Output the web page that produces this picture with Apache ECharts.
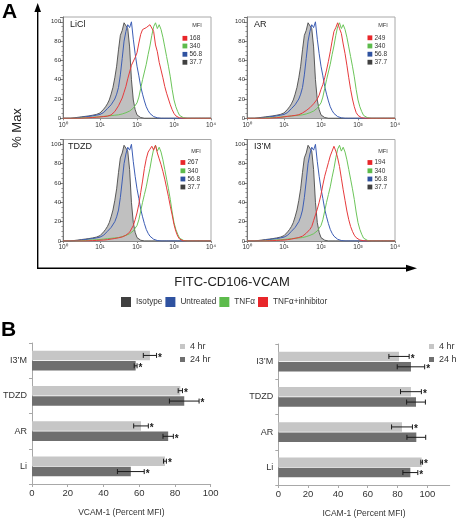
<!DOCTYPE html>
<html><head><meta charset="utf-8">
<script src="https://cdn.jsdelivr.net/npm/echarts@6/dist/echarts.min.js"></script>
<style>html,body{margin:0;padding:0;background:#fff}#c{width:456px;height:522px}</style>
</head><body><div id="c"></div>
<script>
// ---------- Panel A data (flow cytometry histograms, % of max vs log10 intensity) ----------
const logBins = [
0,0.05,0.1,0.15,0.2,0.25,0.3,0.35,0.4,0.45,
0.5,0.55,0.6,0.65,0.7,0.75,0.8,0.85,0.9,0.95,
1,1.05,1.1,1.15,1.2,1.25,1.3,1.35,1.4,1.45,
1.5,1.55,1.6,1.65,1.7,1.75,1.8,1.85,1.9,1.95,
2,2.05,2.1,2.15,2.2,2.25,2.3,2.35,2.4,2.45,
2.5,2.55,2.6,2.65,2.7,2.75,2.8,2.85,2.9,2.95,
3,3.05,3.1,3.15,3.2,3.25,3.3,3.35,3.4,3.45,
3.5,3.55,3.6,3.65,3.7,3.75,3.8,3.85,3.9,3.95,
4];
const xTickLabels = ['10\u2070','10\u00b9','10\u00b2','10\u00b3','10\u2074'];
const isotype = [
0,0,0,0,0,0.3,0.5,0.8,1,1.2,
1.5,1.8,2,2.2,2.5,3,3.2,3.5,4,4.5,
5.5,7.5,9.5,12,15,19,25,32,42,54,
71,86,91,99,97,93,74,40,19,9,
3.5,1.5,0.8,0.3,0,0,0,0,0,0,
0,0,0,0,0,0,0,0,0,0,
0,0,0,0,0,0,0,0,0,0,
0,0,0,0,0,0,0,0,0,0,
0];
const untreated = [
0,0,0,0,0,0,0,0.3,0.5,0.8,
1,1.2,1.5,1.8,2,2.2,2.5,3,3.2,3.5,
4,5,6,8,10,12,14,16,20,25,
32,45,62,80,90,97,94,100,82,67,
54,44,33,25,18,12,8,5,3,1.8,
1,0.5,0.3,0,0,0,0,0,0,0,
0,0,0,0,0,0,0,0,0,0,
0,0,0,0,0,0,0,0,0,0,
0];
const tnfa = [
0,0,0,0,0,0,0,0,0,0.2,
0.3,0.4,0.5,0.6,0.8,1,1,1.2,1.3,1.5,
1.6,1.8,2,2.2,2.4,2.6,2.8,3,3.2,3.4,
3.6,4,4.5,5,5.8,6.5,7.5,9,10.5,12,
16,22,31,40,48,56,66,75,86,95,
99,93,97,92,84,74,64,54,43,30,
19,12,7,3,1.5,0.7,0.3,0,0,0,
0,0,0,0,0,0,0,0,0,0,
0];
const inhibLiCl = [
0,0,0,0,0,0,0,0,0,0,
0,0.2,0.3,0.4,0.5,0.6,0.8,1,1.1,1.2,
1.4,1.6,1.8,2,2.2,2.6,3.5,5,7,9,
13,17,21,27,33,41,48,55,57,63,
68,78,87,92,93,94,96,97,99,90,
76,69,58,50,42,33,26,20,14,9,
5,2.5,1,0.4,0,0,0,0,0,0,
0,0,0,0,0,0,0,0,0,0,
0];
const inhibAR = [
0,0,0,0,0,0,0,0,0,0,
0,0,0,0.2,0.3,0.5,0.6,0.8,1,1.2,
1.5,1.8,2,2.2,2.5,2.8,3,3.3,3.7,4.5,
5.5,6.5,8,9.5,11,13,15,17,20,24,
30,35,42,50,59,69,80,90,94,99,
93,88,77,67,55,42,30,20,12,6,
3,1.2,0.5,0,0,0,0,0,0,0,
0,0,0,0,0,0,0,0,0,0,
0];
const inhibTDZD = [
0,0,0,0,0,0,0,0,0,0,
0,0,0,0,0.2,0.3,0.4,0.5,0.6,0.7,
0.8,0.9,1,1.2,1.4,1.7,2,2.3,2.6,3,
3.3,3.7,4.2,5,6,7.5,9,11,16,22,
29,38,50,62,75,85,92,95,98,94,
99,91,85,79,72,64,55,46,36,27,
17,10,5,2,0.8,0.3,0,0,0,0,
0,0,0,0,0,0,0,0,0,0,
0];
const inhibI3M = [
0,0,0,0,0,0,0,0,0,0,
0,0,0.2,0.3,0.4,0.5,0.6,0.7,0.8,0.9,
1,1.2,1.4,1.7,2,2.4,2.8,3.2,3.6,4,
5,6.5,8,10,12,15,21,27,33,40,
48,58,67,74,81,88,93,98,93,86,
77,65,53,42,31,22,15,10,6,3.5,
2,1,0.6,0.3,0,0,0,0,0,0,
0,0,0,0,0,0,0,0,0,0,
0];
const panelNames = ['LiCl','AR','TDZD','I3\u2019M'];
const mfiInhibitor = [168, 249, 267, 194];
const mfiTNFa = 340;
const mfiUntreated = 56.8;
const mfiIsotype = 37.7;
const histLegend = ['Isotype','Untreated','TNF\u03b1','TNF\u03b1+inhibitor'];

// ---------- Panel B data ----------
const treatments = ['Li','AR','TDZD','I3\u2019M'];
const vcam4h  = [74.4, 61, 83, 66];
const vcam4hErr = [0.8, 4.1, 1.2, 3.7];
const vcam4hStar = ['*','*','*','*'];
const vcam24h = [55.3, 76.2, 85.2, 58];
const vcam24hErr = [7.5, 2.9, 8.3, 0.8];
const vcam24hStar = ['*','*','*','*'];
const icam4h  = [96.2, 83, 89, 81];
const icam4hErr = [0.6, 7, 7, 6.8];
const icam4hStar = ['*','*','*','*'];
const icam24h = [88.6, 92.6, 92.4, 89];
const icam24hErr = [5, 6.3, 6.3, 9.2];
const icam24hStar = ['*','','','*'];

// ---------- build ----------
const FONT = 'Liberation Sans, Arial, sans-serif';
const histColors = {gray:'#4a4a4a', fill:'#c0c0c0', blue:'#3c5db4', green:'#6cc55a', red:'#e63a3c'};
const legendColors = ['#404040','#2f52a0','#5dbb4c','#e8262a'];
const inhibSets = [inhibLiCl, inhibAR, inhibTDZD, inhibI3M];
const pairs = arr => logBins.map((b,i)=>[b, arr[i]]);

const histGrids = [
  {left:63, top:17, width:148, height:101.3},
  {left:247, top:17, width:148, height:101.3},
  {left:63, top:139.5, width:148, height:101.5},
  {left:247, top:139.5, width:148, height:101.5}
];
const panelDecor = [
  {lx:70, ly:25, mx:197, my:25, sx:182.5, rows:[38.3,46,54.3,62.3]},
  {lx:254, ly:25, mx:383, my:25, sx:367.5, rows:[37.8,46,54.2,62.2]},
  {lx:68, ly:147, mx:196, my:151, sx:180.5, rows:[162.5,170.8,179,187]},
  {lx:254, ly:147, mx:383, my:151, sx:367.5, rows:[162.5,170.8,179,187]}
];

const grid = [], xAxis = [], yAxis = [], series = [], graphic = [];
histGrids.forEach((g,k)=>{
  grid.push(Object.assign({show:true, borderColor:'#a8a8a8', borderWidth:1, containLabel:false}, g));
  xAxis.push({type:'value', gridIndex:k, min:0, max:4, interval:1,
    axisLine:{show:true, lineStyle:{color:'#888', width:1}},
    axisTick:{show:true, length:2, lineStyle:{color:'#888'}},
    splitLine:{show:false},
    axisLabel:{fontSize:6.5, color:'#333', margin:3, fontFamily:FONT, formatter:v=>xTickLabels[v]}});
  yAxis.push({type:'value', gridIndex:k, min:0, max:105, interval:20,
    axisLine:{show:true, lineStyle:{color:'#777', width:1}},
    axisTick:{show:true, length:3, lineStyle:{color:'#777'}},
    minorTick:{show:true, splitNumber:4, length:1.5, lineStyle:{color:'#888'}},
    splitLine:{show:false},
    axisLabel:{fontSize:6, color:'#333', margin:2, fontFamily:FONT, showMaxLabel:false}});
  const common = {type:'line', xAxisIndex:k, yAxisIndex:k, showSymbol:false, symbol:'none', silent:true, animation:false};
  series.push(Object.assign({}, common, {name:histLegend[0], data:pairs(isotype),
    itemStyle:{color:legendColors[0]}, lineStyle:{color:histColors.gray, width:0.9},
    areaStyle:{color:histColors.fill, opacity:1}, z:1}));
  series.push(Object.assign({}, common, {name:histLegend[1], data:pairs(untreated),
    itemStyle:{color:legendColors[1]}, lineStyle:{color:histColors.blue, width:1}, z:2}));
  series.push(Object.assign({}, common, {name:histLegend[2], data:pairs(tnfa),
    itemStyle:{color:legendColors[2]}, lineStyle:{color:histColors.green, width:1}, z:3}));
  series.push(Object.assign({}, common, {name:histLegend[3], data:pairs(inhibSets[k]),
    itemStyle:{color:legendColors[3]}, lineStyle:{color:histColors.red, width:1}, z:4}));
  // panel annotations
  const d = panelDecor[k];
  graphic.push({type:'text', x:d.lx, y:d.ly, style:{text:panelNames[k], font:'9px '+FONT, fill:'#222', textVerticalAlign:'middle'}});
  graphic.push({type:'text', x:d.mx, y:d.my, style:{text:'MFI', font:'5.5px '+FONT, fill:'#333', textAlign:'center', textVerticalAlign:'middle'}});
  const vals = [mfiInhibitor[k], mfiTNFa, mfiUntreated, mfiIsotype];
  const cols = [legendColors[3], legendColors[2], legendColors[1], legendColors[0]];
  vals.forEach((v,j)=>{
    graphic.push({type:'rect', shape:{x:d.sx, y:d.rows[j]-2.4, width:4.8, height:4.8}, style:{fill:cols[j]}});
    graphic.push({type:'text', x:d.sx+7, y:d.rows[j], style:{text:String(v), font:'6.5px '+FONT, fill:'#333', textVerticalAlign:'middle'}});
  });
});

// Panel B bar charts
const barGrids = [
  {left:26.7, top:343, width:184, height:141},
  {left:278.3, top:344, width:171.4, height:141}
];
const barSets = [
  {v4:vcam4h, e4:vcam4hErr, s4:vcam4hStar, v24:vcam24h, e24:vcam24hErr, s24:vcam24hStar, max:100, name:'VCAM-1 (Percent MFI)'},
  {v4:icam4h, e4:icam4hErr, s4:icam4hStar, v24:icam24h, e24:icam24hErr, s24:icam24hStar, max:115, name:'ICAM-1 (Percent MFI)'}
];
const BAR_W = 9.5, BAR_OFF = 5.2;
function errRender(stars, dy){
  return function(params, api){
    const i = params.dataIndex;
    const v = api.value(0), c = api.value(1), e = api.value(2);
    const p = api.coord([v, c]);
    const y = p[1] + dy;
    const xl = api.coord([v - e, c])[0], xr = api.coord([v + e, c])[0];
    const st = {stroke:'#1a1a1a', lineWidth:1};
    const ch = [
      {type:'line', shape:{x1:xl, y1:y, x2:xr, y2:y}, style:st},
      {type:'line', shape:{x1:xl, y1:y-2.5, x2:xl, y2:y+2.5}, style:st},
      {type:'line', shape:{x1:xr, y1:y-2.5, x2:xr, y2:y+2.5}, style:st}
    ];
    if (stars[i]) ch.push({type:'text', x:xr+1.5, y:y+2.5, style:{text:stars[i], font:'bold 10px '+FONT, fill:'#1a1a1a', textVerticalAlign:'middle'}});
    return {type:'group', children:ch};
  };
}
barGrids.forEach((g,b)=>{
  const gi = 4 + b, s = barSets[b];
  grid.push(Object.assign({show:false, containLabel:false}, g));
  xAxis.push({type:'value', gridIndex:gi, min:0, max:s.max, interval:20,
    axisLine:{show:true, lineStyle:{color:'#a8a8a8'}},
    axisTick:{show:true, length:3, lineStyle:{color:'#a8a8a8'}},
    splitLine:{show:false},
    axisLabel:{fontSize:9.5, color:'#333', margin:4, fontFamily:FONT, showMaxLabel: s.max === 100},
    name:s.name, nameLocation:'middle', nameGap:24,
    nameTextStyle:{fontSize:8.5, color:'#333', fontFamily:FONT}});
  yAxis.push({type:'category', gridIndex:gi, data:treatments,
    axisLine:{show:true, lineStyle:{color:'#a8a8a8'}},
    axisTick:{show:true, length:3, lineStyle:{color:'#a8a8a8'}},
    axisLabel:{fontSize:9, color:'#333', margin:5, fontFamily:FONT}});
  series.push({type:'bar', name:'4 hr', xAxisIndex:gi, yAxisIndex:gi, data:s.v4, barWidth:BAR_W, barGap:'10%',
    itemStyle:{color:'#c6c6c6'}, silent:true, animation:false});
  series.push({type:'bar', name:'24 hr', xAxisIndex:gi, yAxisIndex:gi, data:s.v24, barWidth:BAR_W, barGap:'10%',
    itemStyle:{color:'#6f6f6f'}, silent:true, animation:false});
  series.push({type:'custom', xAxisIndex:gi, yAxisIndex:gi, encode:{x:0, y:1}, z:5, silent:true, animation:false,
    data:treatments.map((t,i)=>[s.v4[i], i, s.e4[i]]), renderItem:errRender(s.s4, -BAR_OFF)});
  series.push({type:'custom', xAxisIndex:gi, yAxisIndex:gi, encode:{x:0, y:1}, z:5, silent:true, animation:false,
    data:treatments.map((t,i)=>[s.v24[i], i, s.e24[i]]), renderItem:errRender(s.s24, BAR_OFF)});
});

// Figure decorations
graphic.push({type:'text', x:2, y:2, style:{text:'A', font:'bold 21px '+FONT, fill:'#000'}});
graphic.push({type:'text', x:1, y:320, style:{text:'B', font:'bold 21px '+FONT, fill:'#000'}});
graphic.push({type:'line', shape:{x1:37.7, y1:268.5, x2:37.7, y2:10}, style:{stroke:'#000', lineWidth:1.4}});
graphic.push({type:'polygon', shape:{points:[[37.7,3],[34.4,12],[41,12]]}, style:{fill:'#000'}});
graphic.push({type:'line', shape:{x1:37, y1:268.3, x2:408, y2:268.3}, style:{stroke:'#000', lineWidth:1.4}});
graphic.push({type:'polygon', shape:{points:[[417,268.3],[406,264.8],[406,271.8]]}, style:{fill:'#000'}});
graphic.push({type:'text', x:17, y:128, rotation:Math.PI/2, style:{text:'% Max', font:'13px '+FONT, fill:'#222', textAlign:'center', textVerticalAlign:'middle'}});
graphic.push({type:'text', x:232, y:282, style:{text:'FITC-CD106-VCAM', font:'13px '+FONT, fill:'#222', textAlign:'center', textVerticalAlign:'middle'}});

const option = {
  animation:false,
  backgroundColor:'#fff',
  textStyle:{fontFamily:FONT},
  grid, xAxis, yAxis, series, graphic,
  legend:[
    {left:116, top:292, itemWidth:10, itemHeight:10, itemGap:3, selectedMode:false,
     textStyle:{fontSize:8.2, color:'#333', fontFamily:FONT},
     data:histLegend.map((n,i)=>({name:n, icon:'rect', itemStyle:{color:legendColors[i]}}))},
    {left:175, top:337, orient:'vertical', itemWidth:5, itemHeight:5, itemGap:4, selectedMode:false,
     textStyle:{fontSize:9, color:'#333', fontFamily:FONT},
     data:[{name:'4 hr', icon:'rect'},{name:'24 hr', icon:'rect'}]},
    {left:424, top:337, orient:'vertical', itemWidth:5, itemHeight:5, itemGap:4, selectedMode:false,
     textStyle:{fontSize:9, color:'#333', fontFamily:FONT},
     data:[{name:'4 hr', icon:'rect'},{name:'24 hr', icon:'rect'}]}
  ]
};
const chart = echarts.init(document.getElementById('c'), null, {renderer:'canvas'});
chart.setOption(option);
</script></body></html>
